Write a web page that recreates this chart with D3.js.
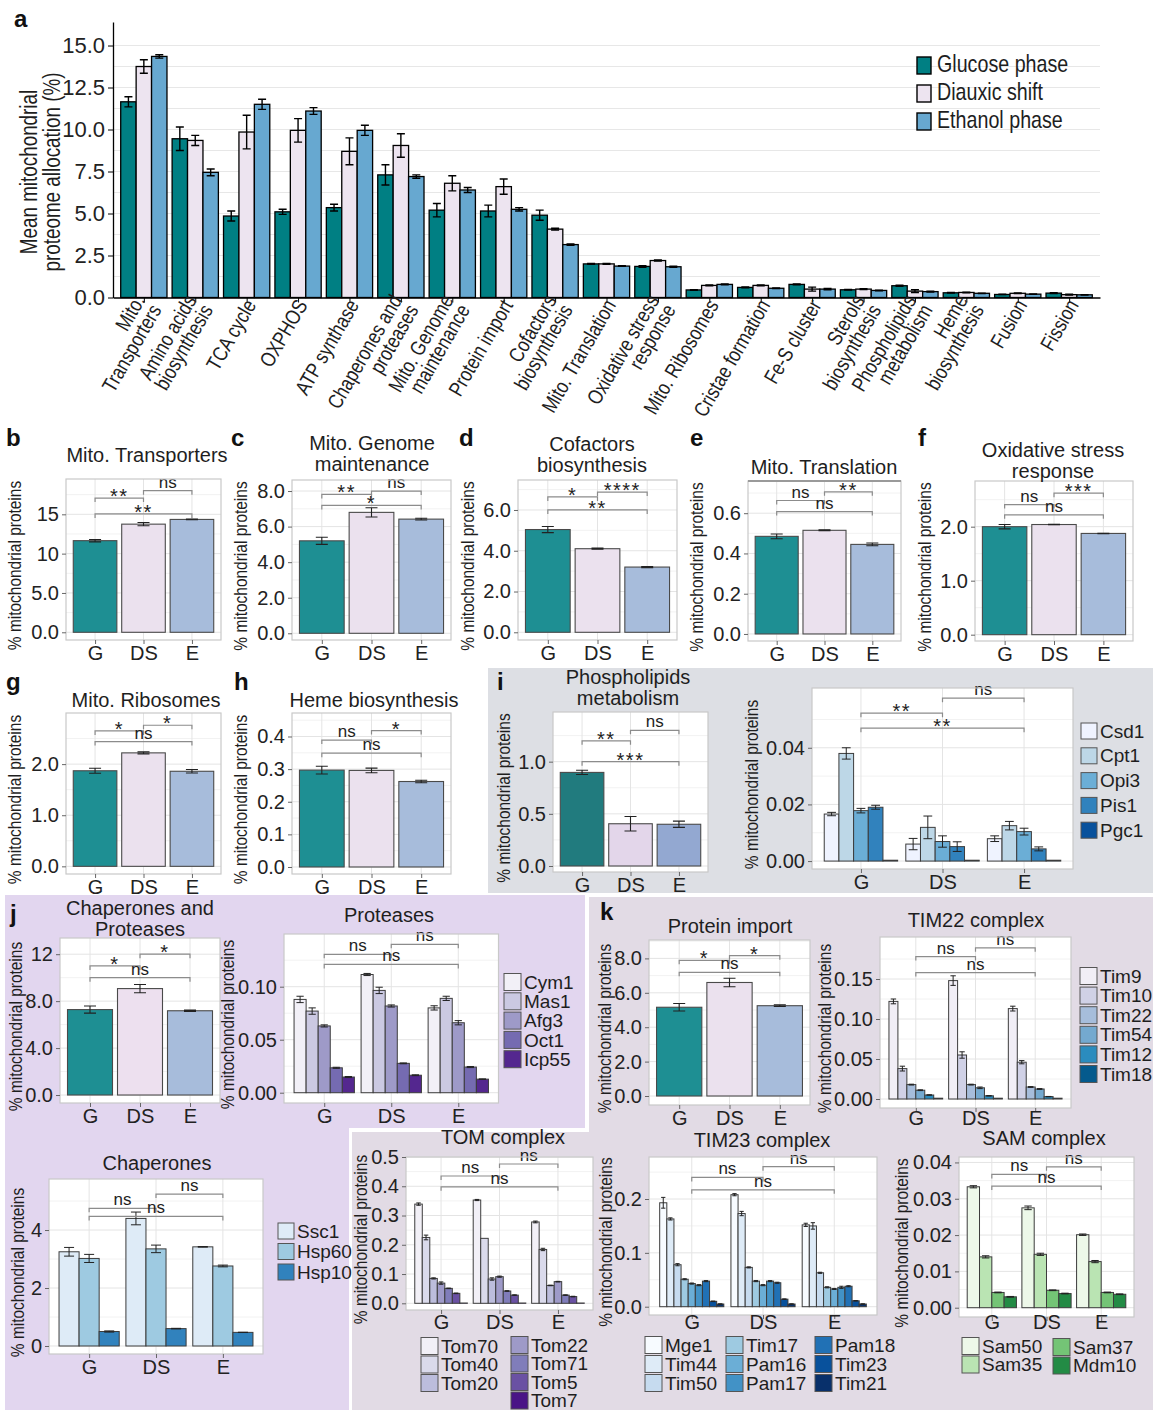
<!DOCTYPE html>
<html>
<head>
<meta charset="utf-8">
<script src="https://cdn.jsdelivr.net/npm/d3@7"></script>
<style>
  body { margin: 0; background: #fff; }
  svg { display: block; }
</style>
</head>
<body>
<svg id="fig" width="1153" height="1410"></svg>
<script>
// ---------- shared ----------
const phases = ["G", "DS", "E"];
const phaseNames = ["Glucose phase", "Diauxic shift", "Ethanol phase"];

// ---------- panel a: mean allocation per functional category ----------
const categories = [
  "Mito.\nTransporters", "Amino acids\nbiosynthesis", "TCA cycle", "OXPHOS", "ATP synthase",
  "Chaperones and\nproteases", "Mito. Genome\nmaintenance", "Protein import", "Cofactors\nbiosynthesis",
  "Mito. Translation", "Oxidative stress\nresponse", "Mito. Ribosomes", "Cristae formation",
  "Fe-S cluster", "Sterols\nbiosynthesis", "Phospholipids\nmetabolism", "Heme\nbiosynthesis",
  "Fusion", "Fission"
];
const glucoseMean = [11.65, 9.45, 4.85, 5.1, 5.35, 7.3, 5.2, 5.15, 4.9, 2.0, 1.85, 0.45, 0.6, 0.78, 0.46, 0.7, 0.28, 0.18, 0.26];
const glucoseErr  = [0.3, 0.7, 0.3, 0.15, 0.2, 0.6, 0.4, 0.35, 0.3, 0.03, 0.05, 0.02, 0.03, 0.03, 0.02, 0.03, 0.02, 0.01, 0.02];
const diauxicMean = [13.75, 9.35, 9.85, 9.95, 8.7, 9.05, 6.8, 6.6, 4.07, 2.0, 2.2, 0.72, 0.72, 0.5, 0.5, 0.38, 0.3, 0.25, 0.17];
const diauxicErr  = [0.4, 0.3, 1.0, 0.7, 0.8, 0.7, 0.45, 0.45, 0.05, 0.02, 0.03, 0.02, 0.02, 0.12, 0.02, 0.08, 0.02, 0.02, 0.02];
const ethanolMean = [14.35, 7.45, 11.5, 11.1, 9.95, 7.2, 6.4, 5.25, 3.15, 1.87, 1.83, 0.78, 0.55, 0.5, 0.42, 0.35, 0.25, 0.2, 0.16];
const ethanolErr  = [0.1, 0.2, 0.3, 0.2, 0.3, 0.1, 0.15, 0.1, 0.04, 0.02, 0.03, 0.03, 0.02, 0.04, 0.02, 0.03, 0.01, 0.01, 0.01];
const allocTicks = [0, 2.5, 5, 7.5, 10, 12.5, 15];

// ---------- single-category panels (G, DS, E) ----------
const transportersMean = [11.65, 13.75, 14.35];
const transportersErr  = [0.15, 0.2, 0.05];
const transportersSig  = [["G", "DS", 17.07, "**"], ["DS", "E", 18.0, "ns"], ["G", "E", 15.05, "**"]];

const genomeMean = [5.2, 6.8, 6.42];
const genomeErr  = [0.2, 0.26, 0.05];
const genomeSig  = [["G", "DS", 7.81, "**"], ["DS", "E", 8.0, "ns"], ["G", "E", 7.19, "*"]];

const cofactorsMean = [5.04, 4.1, 3.2];
const cofactorsErr  = [0.15, 0.03, 0.03];
const cofactorsSig  = [["G", "DS", 6.64, "*"], ["DS", "E", 6.88, "****"], ["G", "E", 6.0, "**"]];

const translationMean = [0.485, 0.515, 0.445];
const translationErr  = [0.012, 0.002, 0.007];
const translationSig  = [["G", "DS", 0.663, "ns"], ["DS", "E", 0.706, "**"], ["G", "E", 0.608, "ns"]];

const oxidativeMean = [2.0, 2.04, 1.875];
const oxidativeErr  = [0.04, 0.004, 0.004];
const oxidativeSig  = [["G", "DS", 2.41, "ns"], ["DS", "E", 2.62, "***"], ["G", "E", 2.22, "ns"]];

const ribosomesMean = [1.87, 2.22, 1.86];
const ribosomesErr  = [0.05, 0.02, 0.035];
const ribosomesSig  = [["G", "DS", 2.65, "*"], ["DS", "E", 2.76, "*"], ["G", "E", 2.44, "ns"]];

const hemeMean = [0.297, 0.296, 0.262];
const hemeErr  = [0.012, 0.007, 0.004];
const hemeSig  = [["G", "DS", 0.389, "ns"], ["DS", "E", 0.418, "*"], ["G", "E", 0.349, "ns"]];

const phosphoMean = [0.897, 0.405, 0.40];
const phosphoErr  = [0.02, 0.07, 0.03];
const phosphoSig  = [["G", "DS", 1.2, "**"], ["DS", "E", 1.3, "ns"], ["G", "E", 1.0, "***"]];

const chapProtMean = [7.28, 9.07, 7.18];
const chapProtErr  = [0.3, 0.35, 0.05];
const chapProtSig  = [["G", "DS", 11.0, "*"], ["DS", "E", 12.0, "*"], ["G", "E", 10.0, "ns"]];

const importMean = [5.16, 6.6, 5.25];
const importErr  = [0.22, 0.25, 0.05];
const importSig  = [["G", "DS", 7.89, "*"], ["DS", "E", 8.16, "*"], ["G", "E", 7.19, "ns"]];

// ---------- per-protein panels: rows are G, DS, E ----------
const phosphoGenes = ["Csd1", "Cpt1", "Opi3", "Pis1", "Pgc1"];
const phosphoGeneMean = [[0.0166, 0.038, 0.0178, 0.019, 0.0003], [0.006, 0.0119, 0.0069, 0.0051, 0.0003], [0.0079, 0.0125, 0.0104, 0.0043, 0.0003]];
const phosphoGeneErr  = [[0.0006, 0.002, 0.0008, 0.0007, 0], [0.002, 0.004, 0.002, 0.0017, 0], [0.001, 0.0015, 0.0012, 0.0007, 0]];
const phosphoGeneSig  = [["G", "DS", 0.0522, "**"], ["DS", "E", 0.0575, "ns"], ["G", "E", 0.0469, "**"]];

const proteaseGenes = ["Cym1", "Mas1", "Afg3", "Oct1", "Icp55"];
const proteaseMean = [[0.088, 0.077, 0.063, 0.0235, 0.0148], [0.1115, 0.0965, 0.0818, 0.0277, 0.0165], [0.080, 0.089, 0.066, 0.0242, 0.0128]];
const proteaseErr  = [[0.003, 0.003, 0.001, 0.0005, 0.0005], [0.001, 0.003, 0.001, 0.0004, 0.0004], [0.002, 0.002, 0.002, 0.0005, 0.0002]];
const proteaseSig  = [["G", "DS", 0.1305, "ns"], ["DS", "E", 0.14, "ns"], ["G", "E", 0.121, "ns"]];

const tim22Genes = ["Tim9", "Tim10", "Tim22", "Tim54", "Tim12", "Tim18"];
const tim22Mean = [[0.122, 0.038, 0.018, 0.011, 0.005, 0.001], [0.148, 0.055, 0.018, 0.014, 0.004, 0.001], [0.113, 0.046, 0.015, 0.0125, 0.003, 0.001]];
const tim22Err  = [[0.003, 0.003, 0.0005, 0.0005, 0.0003, 0], [0.006, 0.004, 0.0005, 0.001, 0.0003, 0], [0.003, 0.002, 0.0005, 0.0005, 0.0002, 0]];
const tim22Sig  = [["G", "DS", 0.178, "ns"], ["DS", "E", 0.189, "ns"], ["G", "E", 0.158, "ns"]];

const chaperoneGenes = ["Ssc1", "Hsp60", "Hsp10"];
const chaperoneMean = [[3.25, 3.02, 0.5], [4.4, 3.35, 0.6], [3.42, 2.76, 0.47]];
const chaperoneErr  = [[0.15, 0.14, 0.02], [0.22, 0.13, 0.01], [0.01, 0.03, 0.005]];
const chaperoneSig  = [["G", "DS", 4.75, "ns"], ["DS", "E", 5.24, "ns"], ["G", "E", 4.47, "ns"]];

const tomGenes = ["Tom70", "Tom40", "Tom20", "Tom22", "Tom71", "Tom5", "Tom7"];
const tomMean = [[0.339, 0.225, 0.085, 0.069, 0.051, 0.034, 0.001], [0.353, 0.222, 0.083, 0.091, 0.042, 0.028, 0.001], [0.278, 0.184, 0.061, 0.074, 0.028, 0.023, 0.001]];
const tomErr  = [[0.004, 0.008, 0.002, 0.004, 0.001, 0.001, 0], [0.002, 0, 0.004, 0.002, 0.001, 0.001, 0], [0.003, 0.004, 0.001, 0.001, 0.001, 0.001, 0]];
const tomSig  = [["G", "DS", 0.435, "ns"], ["DS", "E", 0.476, "ns"], ["G", "E", 0.398, "ns"]];

const tim23Genes = ["Mge1", "Tim44", "Tim50", "Tim17", "Pam16", "Pam17", "Pam18", "Tim23", "Tim21"];
const tim23Mean = [[0.193, 0.163, 0.078, 0.051, 0.043, 0.040, 0.0475, 0.010, 0.005], [0.208, 0.173, 0.073, 0.0475, 0.040, 0.0475, 0.0445, 0.014, 0.005], [0.152, 0.15, 0.063, 0.036, 0.033, 0.036, 0.038, 0.011, 0.005]];
const tim23Err  = [[0.01, 0.002, 0.002, 0.001, 0.001, 0.001, 0.001, 0.0005, 0.0003], [0.002, 0.004, 0.001, 0.001, 0.001, 0.001, 0.001, 0.0005, 0.0003], [0.003, 0.006, 0.001, 0.001, 0.001, 0.002, 0.001, 0.0005, 0.0003]];
const tim23Sig  = [["G", "DS", 0.240, "ns"], ["DS", "E", 0.26, "ns"], ["G", "E", 0.217, "ns"]];

const samGenes = ["Sam50", "Sam35", "Sam37", "Mdm10"];
const samMean = [[0.0333, 0.0140, 0.0042, 0.0030], [0.0275, 0.0147, 0.0048, 0.0039], [0.0201, 0.0127, 0.0042, 0.0037]];
const samErr  = [[0.0003, 0.0003, 0.0001, 0.0001], [0.0005, 0.0003, 0.0001, 0.0001], [0.0002, 0.0003, 0.0001, 0.0001]];
const samSig  = [["G", "DS", 0.0367, "ns"], ["DS", "E", 0.0388, "ns"], ["G", "E", 0.0335, "ns"]];

// ---------- drawing ----------
const FONT = '"Liberation Sans", Arial, Helvetica, sans-serif';
const INK = "#1e1e1e";
const NARROW_X = 0.82;   // horizontal squeeze used for condensed lettering
const svg = d3.select("#fig").attr("font-family", FONT);

// shaded section backgrounds
svg.append("rect").attr("x", 488).attr("y", 668).attr("width", 665).attr("height", 225).attr("fill", "#dddfe4");
const poly = d3.line();
svg.append("path").attr("d", poly([[5, 895], [585, 895], [585, 1128], [349, 1128], [349, 1410], [5, 1410]]) + "Z").attr("fill", "#e2d6ef");
svg.append("path").attr("d", poly([[589, 897], [1153, 897], [1153, 1410], [352, 1410], [352, 1132], [589, 1132]]) + "Z").attr("fill", "#e2dbe5");

function letter(t, x, y) {
  svg.append("text").attr("x", x).attr("y", y).attr("font-size", 24).attr("font-weight", "bold").attr("fill", "#111").text(t);
}

// condensed text: squeezed along its own baseline
function narrowText(parent, x, y, str, size, opts = {}) {
  return parent.append("text")
    .attr("transform", `translate(${x},${y}) rotate(${opts.rotate || 0}) scale(${opts.sx || NARROW_X},1)`)
    .attr("y", opts.dy || 0)
    .attr("text-anchor", opts.anchor || "start")
    .attr("font-size", size).attr("fill", INK).text(str);
}

// ---- panel a ----
(function drawAllocation() {
  const x0 = 113, x1 = 1100, yTop = 22, yBase = 297.5;
  const g = svg.append("g");
  const x = d3.scalePoint().domain(categories).range([x0, x1]).padding(0.6);
  const y = d3.scaleLinear().domain([0, 16.4]).range([yBase, yTop]);
  const means = [glucoseMean, diauxicMean, ethanolMean];
  const errs = [glucoseErr, diauxicErr, ethanolErr];
  const colors = ["#007f83", "#ede4f0", "#67a8d0"];

  g.selectAll(".grid").data(d3.range(1.25, 15.01, 1.25)).join("line").attr("class", "grid")
    .attr("x1", x0).attr("x2", x1).attr("y1", d => y(d)).attr("y2", d => y(d))
    .attr("stroke", "#e7e7e7").attr("stroke-width", 1);

  const gw = x.step() * 0.9, bw = gw / 3;
  const bars = categories.flatMap((c, ci) => means.map((m, si) => ({ c, si, v: m[ci], e: errs[si][ci] })));
  g.selectAll(".bar").data(bars).join("rect").attr("class", "bar")
    .attr("x", d => x(d.c) - gw / 2 + d.si * bw).attr("width", bw)
    .attr("y", d => y(d.v)).attr("height", d => y(0) - y(d.v))
    .attr("fill", d => colors[d.si]).attr("stroke", "#000").attr("stroke-width", 1.3);
  g.selectAll(".err").data(bars).join("path").attr("class", "err")
    .attr("d", d => {
      const cx = x(d.c) - gw / 2 + (d.si + 0.5) * bw, h = 4;
      return `M${cx - h},${y(d.v + d.e)}H${cx + h}M${cx},${y(d.v + d.e)}V${y(d.v - d.e)}M${cx - h},${y(d.v - d.e)}H${cx + h}`;
    })
    .attr("fill", "none").attr("stroke", "#000").attr("stroke-width", 1.4);

  const ya = g.append("g").attr("transform", `translate(${x0},0)`)
    .call(d3.axisLeft(y).tickValues(allocTicks).tickFormat(d3.format(".1f")).tickSize(5).tickSizeOuter(0));
  ya.attr("font-family", FONT).attr("font-size", 22);
  ya.selectAll("text").attr("fill", "#222");
  ya.select(".domain").attr("stroke", "#000").attr("stroke-width", 1.3);
  const xa = g.append("g").attr("transform", `translate(0,${yBase})`)
    .call(d3.axisBottom(x).tickSize(5).tickSizeOuter(0).tickFormat(""));
  xa.select(".domain").attr("stroke", "#000").attr("stroke-width", 1.3);

  // rotated category labels
  const lh = 19;
  categories.forEach(c => {
    const lines = c.split("\n");
    lines.forEach((ln, i) => {
      narrowText(g, x(c) + 4, yBase + 4, ln, 21,
        { rotate: -60, anchor: "end", dy: (i - (lines.length - 1) / 2) * lh + 7 });
    });
  });

  // axis title
  [["Mean mitochondrial", 37], ["proteome allocation (%)", 60]].forEach(([s, bx]) => {
    narrowText(g, bx, 172, s, 23, { rotate: -90, anchor: "middle" });
  });

  // legend
  phaseNames.forEach((nm, i) => {
    const top = 57 + i * 28;
    g.append("rect").attr("x", 917).attr("y", top).attr("width", 14).attr("height", 17)
      .attr("fill", colors[i]).attr("stroke", "#000").attr("stroke-width", 1.4);
    narrowText(g, 937, top + 15, nm, 24);
  });
  letter("a", 14, 27);
})();

// ---- generic framed panel (ggplot-like) ----
function framePanel(spec) {
  const [x0, y0, x1, y1] = spec.box;
  const g = svg.append("g");
  const x = d3.scalePoint().domain(phases).range([x0, x1]).padding(0.6);
  const y = d3.scaleLinear().domain(spec.domain).range([y1, y0]);
  g.append("rect").attr("x", x0).attr("y", y0).attr("width", x1 - x0).attr("height", y1 - y0).attr("fill", "#fff");
  const step = spec.ticks[1] - spec.ticks[0];
  const minor = d3.range(spec.ticks[0] + step / 2, spec.domain[1], step);
  g.selectAll(".mn").data(minor).join("line").attr("class", "mn")
    .attr("x1", x0).attr("x2", x1).attr("y1", d => y(d)).attr("y2", d => y(d)).attr("stroke", "#f2f2f2");
  g.selectAll(".mj").data(spec.ticks).join("line").attr("class", "mj")
    .attr("x1", x0).attr("x2", x1).attr("y1", d => y(d)).attr("y2", d => y(d)).attr("stroke", "#e4e4e4");
  g.selectAll(".vx").data(phases).join("line").attr("class", "vx")
    .attr("x1", d => x(d)).attr("x2", d => x(d)).attr("y1", y0).attr("y2", y1).attr("stroke", "#e4e4e4");
  return { g, x, y };
}

function finishPanel(p, spec) {
  const [x0, y0, x1, y1] = spec.box;
  const { g, x, y } = p;
  // significance brackets
  spec.sig.forEach(([a, b, h, lab]) => {
    const yy = y(h);
    const stars = lab.includes("*");
    g.append("path").attr("d", `M${x(a)},${yy + 4}V${yy}H${x(b)}V${yy + 4}`)
      .attr("fill", "none").attr("stroke", "#8c8c8c").attr("stroke-width", 1.2);
    g.append("text").attr("x", (x(a) + x(b)) / 2).attr("y", stars ? yy + 5 : yy - 3).attr("text-anchor", "middle")
      .attr("font-size", stars ? 20 : 17).attr("letter-spacing", stars ? 1.5 : 0).attr("fill", INK).text(lab);
  });
  g.append("rect").attr("x", x0).attr("y", y0).attr("width", x1 - x0).attr("height", y1 - y0)
    .attr("fill", "none").attr("stroke", "#c9c9c9").attr("stroke-width", 1.2);
  if (spec.topRule) {
    g.append("line").attr("x1", x0).attr("x2", x1).attr("y1", y0).attr("y2", y0).attr("stroke", "#9a9a9a").attr("stroke-width", 2);
  }
  const ya = g.append("g").attr("transform", `translate(${x0},0)`)
    .call(d3.axisLeft(y).tickValues(spec.ticks).tickFormat(spec.fmt).tickSize(4).tickPadding(3));
  ya.select(".domain").remove();
  ya.attr("font-family", FONT).attr("font-size", 20);
  ya.selectAll("line").attr("stroke", "#666");
  ya.selectAll("text").attr("fill", "#222");
  const xa = g.append("g").attr("transform", `translate(0,${y1})`)
    .call(d3.axisBottom(x).tickSize(4).tickPadding(spec.xpad ?? 2));
  xa.select(".domain").remove();
  xa.attr("font-family", FONT).attr("font-size", 20);
  xa.selectAll("line").attr("stroke", "#666");
  xa.selectAll("text").attr("fill", "#222");
  // title
  (spec.title || []).forEach((t, i) => {
    g.append("text").attr("x", spec.tx).attr("y", spec.ty + i * 21).attr("text-anchor", "middle")
      .attr("font-size", 20).attr("fill", INK).text(t);
  });
  // y label
  narrowText(g, spec.ylabX, (y0 + y1) / 2 + 6, "% mitochondrial proteins", 18,
    { rotate: -90, anchor: "middle", dy: 6, sx: 0.86 });
  if (spec.letter) letter(spec.letter[0], spec.letter[1], spec.letter[2]);
}

function errPath(cx, y, v, e, h) {
  return `M${cx - h},${y(v + e)}H${cx + h}M${cx},${y(v + e)}V${y(v - e)}M${cx - h},${y(v - e)}H${cx + h}`;
}

function simplePanel(spec) {
  const p = framePanel(spec);
  const { g, x, y } = p;
  const bw = x.step() * 0.9;
  const data = phases.map((ph, i) => ({ ph, v: spec.mean[i], e: spec.err[i], c: spec.colors[i] }));
  g.selectAll(".bar").data(data).join("rect").attr("class", "bar")
    .attr("x", d => x(d.ph) - bw / 2).attr("width", bw)
    .attr("y", d => y(d.v)).attr("height", d => y(0) - y(d.v))
    .attr("fill", d => d.c).attr("stroke", "#4a4a4a").attr("stroke-width", 1.1);
  g.selectAll(".err").data(data).join("path").attr("class", "err")
    .attr("d", d => errPath(x(d.ph), y, d.v, d.e, 6))
    .attr("fill", "none").attr("stroke", "#222").attr("stroke-width", 1.1);
  finishPanel(p, spec);
}

function groupedPanel(spec) {
  const p = framePanel(spec);
  const { g, x, y } = p;
  const n = spec.genes.length;
  const gw = x.step() * 0.9, bw = gw / n;
  const data = phases.flatMap((ph, i) => spec.genes.map((gene, j) => ({ ph, j, v: spec.mean[i][j], e: spec.err[i][j] })));
  g.selectAll(".bar").data(data).join("rect").attr("class", "bar")
    .attr("x", d => x(d.ph) - gw / 2 + d.j * bw).attr("width", bw)
    .attr("y", d => y(d.v)).attr("height", d => Math.max(0, y(0) - y(d.v)))
    .attr("fill", d => spec.colors[d.j]).attr("stroke", "#3c3c3c").attr("stroke-width", 1);
  g.selectAll(".err").data(data.filter(d => d.e > 0)).join("path").attr("class", "err")
    .attr("d", d => errPath(x(d.ph) - gw / 2 + (d.j + 0.5) * bw, y, d.v, d.e, Math.min(5, bw * 0.3)))
    .attr("fill", "none").attr("stroke", "#222").attr("stroke-width", 1);
  finishPanel(p, spec);
  // legend, filled column by column
  const L = spec.legend;
  let k = 0;
  L.cols.forEach(([lx, ly, count]) => {
    for (let r = 0; r < count && k < n; r++, k++) {
      const cy = ly + r * L.dy;
      g.append("rect").attr("x", lx).attr("y", cy - L.size / 2).attr("width", L.size).attr("height", L.size)
        .attr("fill", spec.colors[k]).attr("stroke", "#555").attr("stroke-width", 1);
      g.append("text").attr("x", lx + L.size + 3).attr("y", cy).attr("dy", "0.35em")
        .attr("font-size", 19).attr("fill", INK).text(spec.genes[k]);
    }
  });
}

const f1 = d3.format(".1f"), f2 = d3.format(".2f");
const fMixed = v => (v >= 10 ? d3.format("d")(v) : f1(v));
const simpleColors = ["#1e8f93", "#ebe1ee", "#a7bcdb"];

simplePanel({ box: [66, 479, 221, 640], domain: [-0.98, 19.49], ticks: [0, 5, 10, 15], fmt: fMixed,
  mean: transportersMean, err: transportersErr, sig: transportersSig, colors: simpleColors,
  title: ["Mito. Transporters"], tx: 147, ty: 462, ylabX: 15, letter: ["b", 6, 446] });
simplePanel({ box: [292, 480, 451, 640], domain: [-0.377, 8.62], ticks: [0, 2, 4, 6, 8], fmt: f1,
  mean: genomeMean, err: genomeErr, sig: genomeSig, colors: simpleColors,
  title: ["Mito. Genome", "maintenance"], tx: 372, ty: 450, ylabX: 241, letter: ["c", 231, 446] });
simplePanel({ box: [518, 480, 677, 640], domain: [-0.378, 7.47], ticks: [0, 2, 4, 6], fmt: f1,
  mean: cofactorsMean, err: cofactorsErr, sig: cofactorsSig, colors: simpleColors,
  title: ["Cofactors", "biosynthesis"], tx: 592, ty: 451, ylabX: 468, letter: ["d", 459, 446] });
simplePanel({ box: [748, 481, 901, 641], domain: [-0.035, 0.76], ticks: [0, 0.2, 0.4, 0.6], fmt: f1,
  mean: translationMean, err: translationErr, sig: translationSig, colors: simpleColors, topRule: true,
  title: ["Mito. Translation"], tx: 824, ty: 474, ylabX: 697, letter: ["e", 690, 446] });
simplePanel({ box: [975, 481, 1133, 641], domain: [-0.117, 2.846], ticks: [0, 1, 2], fmt: f1,
  mean: oxidativeMean, err: oxidativeErr, sig: oxidativeSig, colors: simpleColors,
  title: ["Oxidative stress", "response"], tx: 1053, ty: 457, ylabX: 925, letter: ["f", 918, 446] });
simplePanel({ box: [66, 713, 221, 874], domain: [-0.15, 3.0], ticks: [0, 1, 2], fmt: f1,
  mean: ribosomesMean, err: ribosomesErr, sig: ribosomesSig, colors: simpleColors,
  title: ["Mito. Ribosomes"], tx: 146, ty: 707, ylabX: 15, letter: ["g", 6, 690] });
simplePanel({ box: [292, 713, 451, 874], domain: [-0.0215, 0.472], ticks: [0, 0.1, 0.2, 0.3, 0.4], fmt: f1,
  mean: hemeMean, err: hemeErr, sig: hemeSig, colors: simpleColors,
  title: ["Heme biosynthesis"], tx: 374, ty: 707, ylabX: 241, letter: ["h", 234, 690] });
simplePanel({ box: [553, 712, 708, 872], domain: [-0.0575, 1.476], ticks: [0, 0.5, 1.0], fmt: f1,
  mean: phosphoMean, err: phosphoErr, sig: phosphoSig, colors: ["#217b7e", "#e3d6ea", "#93a8d1"],
  title: ["Phospholipids", "metabolism"], tx: 628, ty: 684, ylabX: 504, letter: ["i", 497, 690] });
groupedPanel({ box: [812, 688, 1073, 869], domain: [-0.0028, 0.0611], ticks: [0, 0.02, 0.04], fmt: f2,
  genes: phosphoGenes, mean: phosphoGeneMean, err: phosphoGeneErr, sig: phosphoGeneSig, colors: d3.schemeBlues[5],
  ylabX: 752, legend: { cols: [[1081, 731, 5]], dy: 24.8, size: 16 } });

simplePanel({ box: [60, 938, 220, 1103], domain: [-0.68, 13.38], ticks: [0, 4, 8, 12], fmt: fMixed,
  mean: chapProtMean, err: chapProtErr, sig: chapProtSig, colors: ["#1e8f93", "#ede0ef", "#a7bcdb"],
  title: ["Chaperones and", "Proteases"], tx: 140, ty: 915, ylabX: 16, letter: ["j", 10, 922] });
groupedPanel({ box: [284, 934, 498.5, 1103], domain: [-0.0097, 0.1497], ticks: [0, 0.05, 0.10], fmt: f2,
  genes: proteaseGenes, mean: proteaseMean, err: proteaseErr, sig: proteaseSig, colors: d3.schemePurples[5],
  title: ["Proteases"], tx: 389, ty: 922, ylabX: 228, legend: { cols: [[504, 982, 5]], dy: 19.3, size: 17 } });
simplePanel({ box: [649, 940, 810, 1105], domain: [-0.523, 9.07], ticks: [0, 2, 4, 6, 8], fmt: f1,
  mean: importMean, err: importErr, sig: importSig, colors: simpleColors,
  title: ["Protein import"], tx: 730, ty: 933, ylabX: 605, letter: ["k", 600, 920] });
groupedPanel({ box: [880, 937, 1071, 1108], domain: [-0.01125, 0.2025], ticks: [0, 0.05, 0.10, 0.15], fmt: f2,
  genes: tim22Genes, mean: tim22Mean, err: tim22Err, sig: tim22Sig, colors: d3.schemePuBu[6], xpad: -1,
  title: ["TIM22 complex"], tx: 976, ty: 927, ylabX: 825, legend: { cols: [[1080, 976, 6]], dy: 19.6, size: 17 } });

groupedPanel({ box: [49, 1179, 263, 1354], domain: [-0.276, 5.76], ticks: [0, 2, 4], fmt: d3.format("d"),
  genes: chaperoneGenes, mean: chaperoneMean, err: chaperoneErr, sig: chaperoneSig, colors: d3.schemeBlues[3],
  title: ["Chaperones"], tx: 157, ty: 1170, ylabX: 18, legend: { cols: [[278, 1231, 3]], dy: 20.5, size: 16 } });
groupedPanel({ box: [406, 1157, 593, 1310], domain: [-0.0229, 0.5], ticks: [0, 0.1, 0.2, 0.3, 0.4, 0.5], fmt: f1,
  genes: tomGenes, mean: tomMean, err: tomErr, sig: tomSig, colors: d3.schemePurples[7], xpad: 1,
  title: ["TOM complex"], tx: 503, ty: 1144, ylabX: 361, legend: { cols: [[421, 1346, 3], [511, 1345, 4]], dy: 18.5, size: 17 } });
groupedPanel({ box: [649, 1157, 877, 1315], domain: [-0.0154, 0.278], ticks: [0, 0.1, 0.2], fmt: f1,
  genes: tim23Genes, mean: tim23Mean, err: tim23Err, sig: tim23Sig, colors: d3.schemeBlues[9], xpad: -4,
  title: ["TIM23 complex"], tx: 762, ty: 1147, ylabX: 606, legend: { cols: [[645, 1345, 3], [726, 1345, 3], [815, 1345, 3]], dy: 19, size: 17 } });
groupedPanel({ box: [959, 1157, 1134, 1317], domain: [-0.00256, 0.0415], ticks: [0, 0.01, 0.02, 0.03, 0.04], fmt: f2,
  genes: samGenes, mean: samMean, err: samErr, sig: samSig, colors: d3.schemeGreens[4], xpad: -6,
  title: ["SAM complex"], tx: 1044, ty: 1145, ylabX: 902, legend: { cols: [[962, 1346, 2], [1053, 1347, 2]], dy: 18.5, size: 17 } });
</script>
</body>
</html>
